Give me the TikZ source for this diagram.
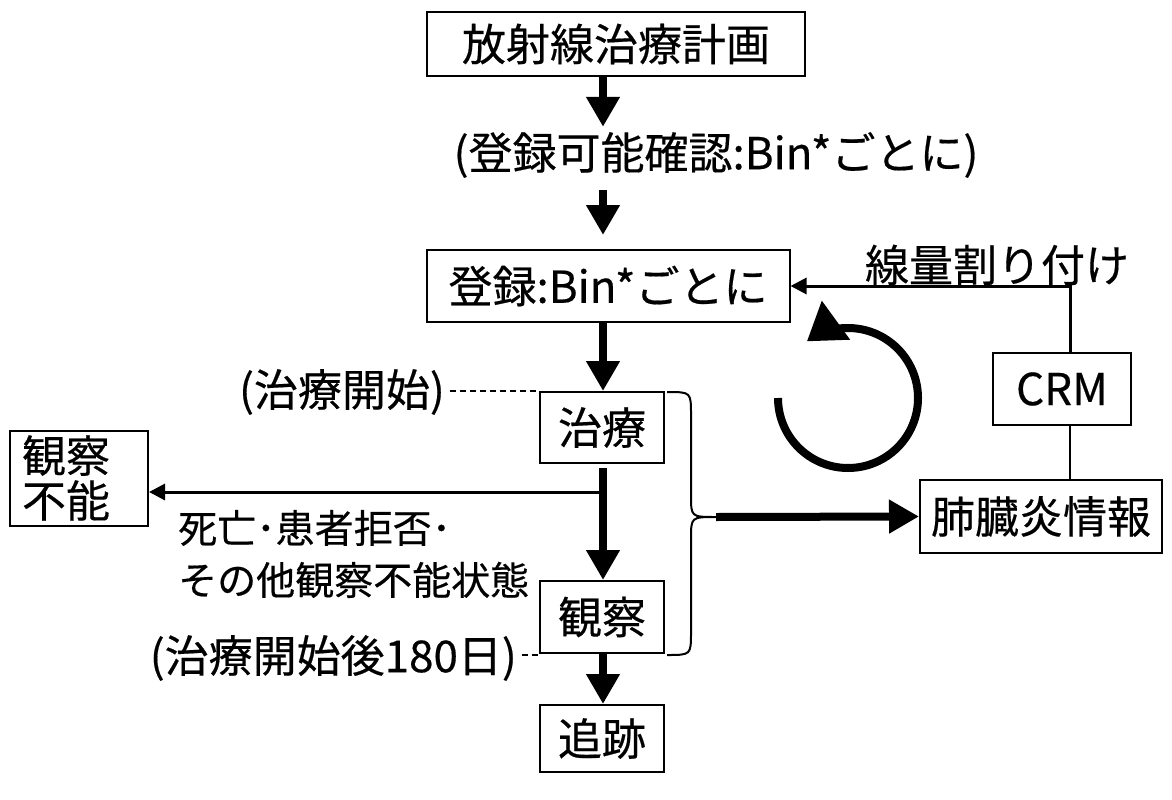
\documentclass[tikz,border=0pt]{standalone}
\usepackage{fontspec}
\setmainfont{Noto Sans CJK JP}[FakeBold=0.4]
\usetikzlibrary{arrows.meta}
\begin{document}
\begin{tikzpicture}[x=1pt,y=-1pt,
  every node/.style={font=\fontsize{44}{45}\selectfont},
  box/.style={draw,line width=2pt,inner sep=0pt,anchor=center},
  lbl/.style={inner sep=0pt},
  thickarrow/.style={line width=8pt,-{Triangle[length=30pt,width=32pt]}},
  thinarrow/.style={line width=3pt,-{Triangle[length=16pt,width=16pt]}},
  dashline/.style={line width=1.5pt,dash pattern=on 6pt off 4pt},
  plainline/.style={line width=2.5pt}]
\useasboundingbox (0,0) rectangle (1172,800);
% boxes
\node[box,minimum width=378pt,minimum height=64pt] (plan) at (616,44) {放射線治療計画};
\node[lbl,minimum height=56pt] (check) at (716,155) {(登録可能確認:Bin*ごとに)};
\node[box,minimum width=363pt,minimum height=72pt] (reg) at (608,286) {登録:Bin*ごとに};
\node[box,minimum width=124pt,minimum height=71pt] (treat) at (602,427.5) {治療};
\node[box,minimum width=124pt,minimum height=72pt] (obs) at (602,617) {観察};
\node[box,minimum width=124pt,minimum height=67pt] (follow) at (602,738.5) {追跡};
\node[box,minimum width=138pt,minimum height=95pt,text width=114pt,align=left] (unobs) at (79,478) {観察\\不能};
\node[box,minimum width=138pt,minimum height=72pt] (crm) at (1062,389) {CRM};
\node[box,minimum width=242pt,minimum height=73pt] (pneu) at (1041,516.5) {肺臓炎情報};
% labels
\node[lbl,anchor=east] (start) at (445,392) {(治療開始)};
\node[lbl,anchor=east] (end) at (517,658) {(治療開始後180日)};
\node[lbl,anchor=west,align=left,font=\fontsize{39}{52}\selectfont] (reason) at (178,554) {死亡･患者拒否･\\その他観察不能状態};
\node[lbl] (dose) at (997,265) {線量割り付け};
% coordinates
\coordinate (ax) at (603,0);
\coordinate (lx) at (1070,0);
\coordinate (br) at (603,492);
\coordinate (bt) at (667,392);
\coordinate (tip) at (716,517);
\coordinate (bb) at (667,655);
\coordinate (cc) at (848,398);
% main flow
\draw[thickarrow] (plan.south -| ax) -- (check.north -| ax);
\draw[thickarrow,shorten <=7pt,shorten >=14pt] (check.south -| ax) -- (reg.north -| ax);
\draw[thickarrow] (reg.south -| ax) -- (treat.north -| ax);
\draw[thickarrow,shorten <=4pt] (treat.south -| ax) -- (obs.north -| ax);
\draw[thickarrow] (obs.south -| ax) -- (follow.north -| ax);
\draw[thinarrow] (br) -- (br -| unobs.east);
% dashed leaders
\draw[dashline,shorten <=5pt] (start.east |- treat.north) -- (treat.north west);
\draw[dashline,shorten <=5pt] (end.east |- bb) -- (obs.south west |- bb);
% brace
\draw[line width=2pt] (bt) .. controls (691,392) .. (691,415) -- (691,495)
  .. controls (691,517) .. (tip) .. controls (691,517) .. (691,539) -- (691,632)
  .. controls (691,655) .. (bb);
\draw[thickarrow] (tip) -- (pneu.west);
% feedback
\draw[plainline] (pneu.north -| lx) -- (crm.south -| lx);
\draw[thinarrow] (crm.north -| lx) |- (reg.east);
% cycle
\draw[line width=8pt,-{Triangle[length=36pt,width=46pt]}] (cc) ++(180:70) arc[start angle=180,end angle=-126,radius=70];
\end{tikzpicture}
\end{document}
